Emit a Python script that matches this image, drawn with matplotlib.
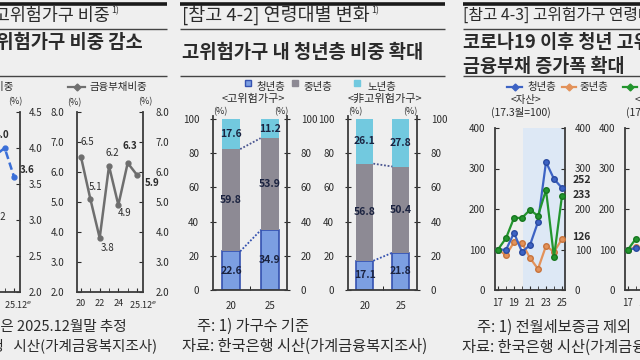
import matplotlib
matplotlib.use('Agg')
import matplotlib.pyplot as plt
import matplotlib.transforms as mtrans
from matplotlib.lines import Line2D
from matplotlib.ticker import FormatStrFormatter, MultipleLocator, FixedLocator

plt.rcParams['font.family'] = ['Noto Sans CJK KR', 'DejaVu Sans']
plt.rcParams['axes.unicode_minus'] = False

W, H = 640, 360
BG = '#efefef'
TXT = '#2b2b2b'
SP = '#3c3c3c'
NAVY = '#1b2340'

# ---------------- data ----------------
# panel 1: shares (%)
share_x = ['20', '21', '22', '23', '24', '25', '25.12e']
risk_share = [3.4, 3.7, 3.5, 3.2, 3.9, 4.0, 3.6]
debt_share = [6.5, 5.1, 3.8, 6.2, 4.9, 6.3, 5.9]
share_ticklabels = ['20', '22', '24', '25.12$^{e}$']

# panel 2: age composition (%)
age_groups = ['청년층', '중년층', '노년층']
bar_years = ['20', '25']
hr_young = [22.6, 34.9]
hr_mid = [59.8, 53.9]
hr_old = [17.6, 11.2]
nhr_young = [17.1, 21.8]
nhr_mid = [56.8, 50.4]
nhr_old = [26.1, 27.8]

# panel 3: index (17.3 = 100)
years = [17, 18, 19, 20, 21, 22, 23, 24, 25]
asset_young = [100, 99, 141, 94, 111, 168, 316, 274, 252]
asset_mid = [100, 86, 118, 116, 79, 52, 109, 94, 126]
asset_old = [100, 128, 178, 178, 198, 183, 247, 81, 233]
debt_years = [17, 18]
debt_young = [100, 103]
debt_mid = [100, 106]
debt_old = [100, 127]

fig = plt.figure(figsize=(6.4, 3.6), dpi=100, facecolor=BG)


def ax_px(x0, y0, x1, y1):
    ax = fig.add_axes([x0 / W, 1 - y1 / H, (x1 - x0) / W, (y1 - y0) / H])
    ax.set_facecolor('none')
    for s in ax.spines.values():
        s.set_color(SP)
        s.set_linewidth(1.3)
    ax.spines['top'].set_visible(False)
    return ax


def hline(x0, x1, y, lw=1.0, color='#555555'):
    fig.add_artist(Line2D([x0 / W, x1 / W], [1 - y / H, 1 - y / H],
                          transform=fig.transFigure, lw=lw, color=color,
                          solid_capstyle='butt'))


def ftext(x, y, s, **kw):
    kw.setdefault('va', 'center')
    kw.setdefault('color', TXT)
    return fig.text(x / W, 1 - y / H, s, **kw)


sup_list = []


def legend_line(x0, x1, y, color, ls='-', marker='D'):
    fig.add_artist(Line2D([x0 / W, x1 / W], [1 - y / H, 1 - y / H],
                          transform=fig.transFigure, lw=1.6, color=color, ls=ls))
    fig.add_artist(Line2D([(x0 + x1) / 2 / W], [1 - y / H], transform=fig.transFigure,
                          marker=marker, ms=3.5, color=color, lw=0))


def legend_square(x, y, color, edge=None):
    fig.add_artist(Line2D([x / W], [1 - y / H], transform=fig.transFigure,
                          marker='s', ms=4, color=color, mec=edge or color, lw=0))


def shift_last_xlabel(ax, dx_px):
    lab = ax.get_xticklabels()[-1]
    lab.set_transform(lab.get_transform() +
                      mtrans.ScaledTranslation(dx_px / 100, 0, fig.dpi_scale_trans))


# ================= Panel 1 =================
hline(-5, 167, 4, 2.6, '#1a1a1a')
hline(-5, 167, 29, 1.0, '#444444')
hline(-5, 167, 76, 1.0, '#444444')
t1 = ftext(110, 15, '[참고 4-1] 고위험가구 비중', ha='right', fontsize=12.5)
sup_list.append(t1)
ftext(143, 42, '고위험가구 비중 감소', ha='right', fontsize=13.5, fontweight='bold')

ftext(14, 87, '고위험가구비중', ha='right', fontsize=7.5)
legend_line(68, 85, 87, '#707070')
ftext(90, 87, '금융부채비중', fontsize=7.5)

xs = list(range(len(share_x)))

# cut subplot (risk share)
a1 = ax_px(-46, 112, 20, 292)
a1.set_xlim(-0.43, 6.64)
a1.set_ylim(2.0, 4.5)
a1.plot(xs, risk_share, color='#3a6fd8', ls='--', lw=1.8, marker='o', ms=3.5, dashes=(3, 1.5))
a1.yaxis.set_major_locator(MultipleLocator(0.5))
a1.yaxis.set_major_formatter(FormatStrFormatter('%.1f'))
a1.tick_params(axis='y', left=False, labelleft=False, right=True, labelright=True,
               direction='in', length=3, labelsize=7, pad=6, colors=TXT)
a1.xaxis.set_major_locator(FixedLocator([0, 2, 4, 6]))
a1.set_xticklabels(share_ticklabels)
a1.xaxis.set_minor_locator(FixedLocator(xs))
a1.tick_params(axis='x', which='both', direction='in', length=3, labelsize=6.5, pad=5, colors=TXT)
shift_last_xlabel(a1, 4)
a1.annotate(f'{risk_share[5]:.1f}', (5, risk_share[5]), textcoords='offset pixels',
            xytext=(-3, 13), ha='center', va='center', fontsize=7, fontweight='bold', color=TXT)
a1.annotate(f'{risk_share[3]:.1f}', (3, risk_share[3]), textcoords='offset pixels',
            xytext=(13, -11), ha='center', va='center', fontsize=7, color=TXT)
a1.text(1.0, risk_share[6] + 0.1, f'{risk_share[6]:.1f}', transform=a1.get_yaxis_transform(),
        ha='left', va='center', fontsize=7, fontweight='bold', color=TXT)
ftext(15, 102, '(%)', ha='center', fontsize=6.5)

# debt share subplot
a2 = ax_px(77, 112, 143, 292)
a2.set_xlim(-0.43, 6.64)
a2.set_ylim(2.0, 8.0)
a2.plot(xs, debt_share, color='#6e6e6e', lw=1.8, marker='o', ms=3.5)
a2.yaxis.set_major_locator(MultipleLocator(1.0))
a2.yaxis.set_major_formatter(FormatStrFormatter('%.1f'))
a2.tick_params(axis='y', left=True, labelleft=True, right=True, labelright=True,
               direction='in', length=3, labelsize=7, pad=9, colors=TXT)
a2.xaxis.set_major_locator(FixedLocator([0, 2, 4, 6]))
a2.set_xticklabels(share_ticklabels)
a2.xaxis.set_minor_locator(FixedLocator(xs))
a2.tick_params(axis='x', which='both', direction='in', length=3, labelsize=6.5, pad=5, colors=TXT)
shift_last_xlabel(a2, 6)
offs = [(6, -15), (5, -12), (8, 10), (3, -13), (6, 8), (2, -17)]
for i, (dx, dy) in enumerate(offs):
    a2.annotate(f'{debt_share[i]:.1f}', (i, debt_share[i]), textcoords='offset pixels',
                xytext=(dx, -dy), ha='center', va='center', fontsize=7,
                fontweight='bold' if i == 5 else 'normal', color=TXT)
a2.text(1.03, debt_share[6] - 0.28, f'{debt_share[6]:.1f}', transform=a2.get_yaxis_transform(),
        ha='left', va='center', fontsize=7, fontweight='bold', color=TXT)
ftext(74, 103, '(%)', ha='center', fontsize=6.5)
ftext(145, 102, '(%)', ha='center', fontsize=6.5)

ftext(127, 326, '주: 1) 25.12e 값은 2025.12월말 추정', ha='right', fontsize=10.5)
ftext(157, 346, '자료: 한국은행   시산(가계금융복지조사)', ha='right', fontsize=10.5)

# ================= Panel 2 =================
hline(180, 445, 4, 2.6, '#1a1a1a')
hline(180, 445, 29, 1.0, '#444444')
hline(180, 445, 76, 1.0, '#444444')
t2 = ftext(182, 15, '[참고 4-2] 연령대별 변화', fontsize=13.3)
sup_list.append(t2)
ftext(182, 52, '고위험가구 내 청년층 비중 확대', fontsize=13.5, fontweight='bold')

C_Y, C_Y_E, C_M, C_O = '#7c9fe2', '#3552b0', '#8d8a94', '#72c9df'
legend_square(248, 83, C_Y, C_Y_E)
ftext(256, 87, age_groups[0], fontsize=7.5)
legend_square(295, 83, C_M)
ftext(303, 87, age_groups[1], fontsize=7.5)
legend_square(357, 83, C_O)
ftext(368, 87, age_groups[2], fontsize=7.5)
ftext(253, 99, '<고위험가구>', ha='center', fontsize=8)
ftext(385, 99, '<非고위험가구>', ha='center', fontsize=8)


def stacked(ax, young, mid, old):
    xb = [0, 1]
    w = 0.47
    ax.bar(xb, young, width=w, color=C_Y, edgecolor=C_Y_E, lw=1.2, zorder=2)
    ax.bar(xb, mid, width=w, bottom=young, color=C_M, lw=0, zorder=2)
    b2 = [y + m for y, m in zip(young, mid)]
    ax.bar(xb, old, width=w, bottom=b2, color=C_O, lw=0, zorder=2)
    ax.plot([w / 2, 1 - w / 2], young, ls=(0, (1, 1)), color=C_Y_E, lw=1.3, zorder=3)
    ax.plot([w / 2, 1 - w / 2], b2, ls=(0, (1, 1)), color='#4a5590', lw=1.3, zorder=3)
    for i in range(2):
        for val, base in [(young[i], 0), (mid[i], young[i]), (old[i], b2[i])]:
            ax.text(xb[i], base + val / 2, f'{val:.1f}', ha='center', va='center',
                    fontsize=7.5, fontweight='bold', color=NAVY, zorder=4)
    ax.set_xlim(-0.47, 1.45)
    ax.set_ylim(0, 102)
    ax.set_xticks(xb)
    ax.set_xticklabels(bar_years)
    ax.xaxis.set_minor_locator(FixedLocator([0.5]))
    ax.tick_params(axis='x', which='major', length=0, labelsize=7, pad=8, colors=TXT)
    ax.tick_params(axis='x', which='minor', direction='in', length=3)
    ax.set_yticks([0, 20, 40, 60, 80, 100])
    ax.tick_params(axis='y', left=True, right=True, labelleft=True, labelright=True,
                   direction='inout', length=4, labelsize=7, pad=8, colors=TXT)


b1 = ax_px(213, 115.6, 287, 290)
stacked(b1, hr_young, hr_mid, hr_old)
b2ax = ax_px(348, 115.6, 417, 290)
stacked(b2ax, nhr_young, nhr_mid, nhr_old)
for x in (220, 281, 355, 410):
    ftext(x, 112, '(%)', ha='center', fontsize=6.5)

ftext(197, 326, '주: 1) 가구수 기준', fontsize=11)
ftext(182, 346, '자료: 한국은행 시산(가계금융복지조사)', fontsize=11)

# ================= Panel 3 =================
hline(463, 645, 4, 2.6, '#1a1a1a')
hline(463, 645, 29, 1.0, '#444444')
hline(463, 645, 76, 1.0, '#444444')
ftext(463, 15, '[참고 4-3] 고위험가구 연령대별 자산 및 금융부채 추이', fontsize=11.4)
ftext(463, 42, '코로나19 이후 청년 고위험가구의 자산 및', fontsize=13.3, fontweight='bold')
ftext(463, 66, '금융부채 증가폭 확대', fontsize=13.3, fontweight='bold')

C_B, C_OR, C_G = '#3d63c4', '#e3925a', '#23952e'
legend_line(507, 522, 87, C_B)
ftext(527, 87, '청년층', fontsize=7.5)
legend_line(562, 576, 87, C_OR)
ftext(580, 87, '중년층', fontsize=7.5)
legend_line(623, 637, 87, C_G)
ftext(641, 87, '노년층', fontsize=7.5)


def index_ax(ax, xv, series):
    ax.set_xlim(16.625, 25.375)
    ax.set_ylim(0, 400)
    ax.axvspan(20.15, 25.375, color='#dde8f5', lw=0, zorder=0)
    for ys, c, ec in series:
        ax.plot(xv, ys, color=c, lw=1.6, marker='o', ms=4, mfc=c, mec=ec, mew=1, zorder=3)
    ax.set_yticks([0, 100, 200, 300, 400])
    ax.tick_params(axis='y', left=True, right=True, labelleft=True, labelright=True,
                   direction='in', length=3, labelsize=7, pad=7, colors=TXT)
    ax.set_xticks([17, 19, 21, 23, 25])
    ax.xaxis.set_minor_locator(FixedLocator(years))
    ax.tick_params(axis='x', which='both', direction='in', length=3, labelsize=7, pad=6, colors=TXT)


r1 = ax_px(495, 128, 565, 290)
index_ax(r1, years, [(asset_mid, C_OR, '#c8743c'), (asset_young, C_B, '#2a4aa0'),
                     (asset_old, C_G, '#17771f')])
for vals, dy in [(asset_young, 20), (asset_old, 2), (asset_mid, 5)]:
    r1.text(26.3, vals[-1] + dy, f'{vals[-1]}', ha='left', va='center', fontsize=7.5,
            fontweight='bold', color=TXT, clip_on=False)
ftext(526, 100, '<자산>', ha='center', fontsize=7.5)
ftext(521, 112, '(17.3월=100)', ha='center', fontsize=7.5)

r2 = ax_px(625, 128, 695, 290)
index_ax(r2, debt_years, [(debt_mid, C_OR, '#c8743c'), (debt_young, C_B, '#2a4aa0'),
                          (debt_old, C_G, '#17771f')])
ftext(660, 100, '<금융부채>', ha='center', fontsize=7.5)
ftext(656, 112, '(17.3월=100)', ha='center', fontsize=7.5)

ftext(477, 327, '주: 1) 전월세보증금 제외', fontsize=11)
ftext(462, 347, '자료: 한국은행 시산(가계금융복지조사)', fontsize=11)

# superscripts after titles
fig.canvas.draw()
r = fig.canvas.get_renderer()
for t in sup_list:
    bb = t.get_window_extent(r)
    fig.text((bb.x1 + 1) / W, (bb.y1 - 1) / H, '1)', fontsize=6.5, va='top', ha='left', color=TXT)

fig.savefig('out.png', dpi=100, facecolor=BG)
